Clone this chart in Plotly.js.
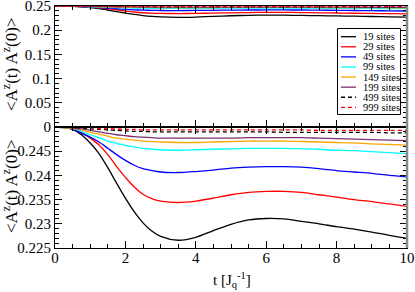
<!DOCTYPE html>
<html>
<head>
<meta charset="utf-8">
<script src="https://cdn.plot.ly/plotly-3.0.1.min.js"></script>
<style>html,body{margin:0;padding:0;background:#fff;}#chart{width:415px;height:292px;}</style>
</head>
<body>
<div id="chart"></div>
<script>
// time axis [J_q^-1]
const t = [0,0.25,0.5,0.75,1,1.25,1.5,1.75,2,2.25,2.5,2.75,3,3.5,4,4.5,5,5.5,6,6.5,7,7.5,8,8.5,9,9.5,10];

const s19 = [0.2500,0.2499,0.2495,0.2484,0.2467,0.2445,0.2416,0.2384,0.2353,0.2325,0.2302,0.2285,0.2274,0.2266,0.2272,0.2286,0.2299,0.2308,0.2311,0.2310,0.2305,0.2300,0.2294,0.2289,0.2283,0.2276,0.2270];
const s29 = [0.2500,0.2499,0.2497,0.2489,0.2477,0.2463,0.2443,0.2418,0.2396,0.2376,0.2361,0.2352,0.2347,0.2344,0.2347,0.2353,0.2360,0.2365,0.2367,0.2367,0.2365,0.2360,0.2355,0.2350,0.2346,0.2341,0.2336];
const s49 = [0.2500,0.2499,0.2496,0.2487,0.2479,0.2469,0.2456,0.2443,0.2431,0.2421,0.2414,0.2410,0.2407,0.2406,0.2408,0.2411,0.2415,0.2417,0.2418,0.2418,0.2417,0.2414,0.2410,0.2407,0.2404,0.2400,0.2397];
const s99 = [0.2500,0.2499,0.2497,0.2491,0.2484,0.2478,0.2471,0.2466,0.2462,0.2459,0.2456,0.2454,0.2453,0.2452,0.2453,0.2454,0.2455,0.2456,0.2456,0.2456,0.2455,0.2454,0.2452,0.2451,0.2449,0.2447,0.2445];
const s149 = [0.2500,0.2499,0.2497,0.2494,0.2489,0.2485,0.2481,0.2477,0.2475,0.2473,0.2471,0.2470,0.2469,0.2468,0.2468,0.2469,0.2470,0.2471,0.2471,0.2471,0.2470,0.2469,0.2468,0.2467,0.2465,0.2464,0.2462];
const s199 = [0.2500,0.2500,0.2498,0.2496,0.2493,0.2490,0.2487,0.2484,0.2482,0.2480,0.2479,0.2478,0.2477,0.2477,0.2477,0.2477,0.2477,0.2478,0.2478,0.2478,0.2478,0.2477,0.2476,0.2475,0.2474,0.2473,0.2472];
const s499 = [0.2500,0.2500,0.2499,0.2498,0.2496,0.2495,0.2494,0.2493,0.2492,0.2491,0.2491,0.2490,0.2490,0.2490,0.2490,0.2490,0.2490,0.2490,0.2490,0.2489,0.2489,0.2489,0.2489,0.2489,0.2489,0.2488,0.2488];
const s999 = [0.2500,0.2500,0.2500,0.2499,0.2498,0.2497,0.2496,0.2496,0.2495,0.2495,0.2494,0.2494,0.2494,0.2494,0.2494,0.2494,0.2494,0.2494,0.2494,0.2494,0.2494,0.2493,0.2493,0.2493,0.2493,0.2493,0.2493];

const seriesNames = ['19 sites','29 sites','49 sites','99 sites','149 sites','199 sites','499 sites','999 sites'];
const seriesValues = [s19,s29,s49,s99,s149,s199,s499,s999];

const lowerTickVals = [0.225,0.23,0.235,0.24,0.245];
const lowerTickText = ['0.225','0.23','0.235','0.24','0.245'];
const upperTickVals = [0,0.05,0.1,0.15,0.2,0.25];
const upperTickText = ['0','0.05','0.1','0.15','0.2','0.25'];

const colors = ['#000000','#ff0000','#0000ff','#00ffff','#ffa500','#7a2f70','#000000','#ff0000'];
const dashes = ['solid','solid','solid','solid','solid','solid','4px,3px','4px,3px'];

const FONT = 'Liberation Serif, Times New Roman, serif';
const traces = [];
seriesValues.forEach((v,i)=>{
  traces.push({x:t,y:v,xaxis:'x',yaxis:'y',mode:'lines',name:seriesNames[i],showlegend:false,
    line:{color:colors[i],width:1.3,dash:dashes[i],shape:'spline',smoothing:0.8}});
  traces.push({x:t,y:v,xaxis:'x2',yaxis:'y2',mode:'lines',name:seriesNames[i],showlegend:false,
    line:{color:colors[i],width:1.3,dash:dashes[i],shape:'spline',smoothing:0.8}});
});

const M = {l:55,r:8,t:6,b:44};
const W = 415, H = 292;
const pw = W-M.l-M.r, ph = H-M.t-M.b;
const px = p => (p-M.l)/pw;
const py = p => (H-M.b-p)/ph;

const xCommon = {range:[0,10],tick0:0,dtick:2,ticks:'inside',ticklen:7,tickwidth:1,tickcolor:'#000',
  minor:{tick0:0,dtick:0.5,ticks:'inside',ticklen:4,tickcolor:'#000'},
  showline:true,linecolor:'#000',linewidth:1,mirror:'ticks',showgrid:false,zeroline:false,
  ticklabeloverflow:'allow',ticklabelstandoff:-4,
  tickfont:{family:FONT,size:15,color:'#000'}};

const shapes = [];
const annotations = [];
// custom compact legend
shapes.push({type:'rect',xref:'paper',yref:'paper',x0:px(337.5),x1:px(400.5),y0:py(28.5),y1:py(114.5),
  line:{color:'#000',width:1},fillcolor:'#fff',layer:'above'});
seriesNames.forEach((n,i)=>{
  const yy = 36.7 + i*10.09;
  shapes.push({type:'line',xref:'paper',yref:'paper',x0:px(341),x1:px(356),y0:py(yy),y1:py(yy),
    line:{color:colors[i],width:1.3,dash:dashes[i]},layer:'above'});
  annotations.push({xref:'paper',yref:'paper',x:px(361),y:py(yy),xanchor:'left',yanchor:'middle',
    text:n,showarrow:false,font:{family:FONT,size:10.5,color:'#000'}});
});
// gray right frame edge
shapes.push({type:'line',xref:'paper',yref:'paper',x0:1,x1:1,y0:0,y1:1,line:{color:'#8a8a8a',width:2.5},layer:'above'});

const ytitle = '&lt;A<sup>z</sup>(t) A<sup>z</sup>(0)&gt;';
annotations.push({xref:'paper',yref:'paper',x:px(10),y:py(64),textangle:-90,xanchor:'center',yanchor:'middle',
  text:ytitle,showarrow:false,font:{family:FONT,size:17,color:'#000'}});
annotations.push({xref:'paper',yref:'paper',x:px(10),y:py(186),textangle:-90,xanchor:'center',yanchor:'middle',
  text:ytitle,showarrow:false,font:{family:FONT,size:17,color:'#000'}});
// x axis title
annotations.push({xref:'paper',yref:'paper',x:px(232),y:py(280),xanchor:'center',yanchor:'middle',
  text:'t [J<sub>q</sub><sup>-1</sup>]',showarrow:false,font:{family:FONT,size:15,color:'#000'}});

const layout = {
  width:W,height:H,margin:M,paper_bgcolor:'#fff',plot_bgcolor:'#fff',showlegend:false,
  font:{family:FONT,color:'#000'},
  xaxis:Object.assign({},xCommon,{domain:[0,1],anchor:'y'}),
  xaxis2:Object.assign({},xCommon,{domain:[0,1],anchor:'y2',matches:'x',showticklabels:false}),
  yaxis:{domain:[0,0.5],anchor:'x',range:[0.225,0.25],tickmode:'array',tickvals:lowerTickVals,ticktext:lowerTickText,
    ticks:'inside',ticklen:7,tickcolor:'#000',minor:{tickmode:'linear',tick0:0.225,dtick:0.001,ticks:'inside',ticklen:4,tickcolor:'#000'},
    showline:true,linecolor:'#000',linewidth:1,mirror:'ticks',showgrid:false,zeroline:false,ticklabeloverflow:'allow',
    tickfont:{family:FONT,size:15,color:'#000'}},
  yaxis2:{domain:[0.5,1],anchor:'x2',range:[0,0.25],tickmode:'array',tickvals:upperTickVals,ticktext:upperTickText,
    ticks:'inside',ticklen:7,tickcolor:'#000',minor:{tickmode:'linear',tick0:0,dtick:0.01,ticks:'inside',ticklen:4,tickcolor:'#000'},
    showline:true,linecolor:'#000',linewidth:1,mirror:'ticks',showgrid:false,zeroline:false,ticklabeloverflow:'allow',
    tickfont:{family:FONT,size:15,color:'#000'}},
  shapes:shapes,annotations:annotations
};

Plotly.newPlot('chart',traces,layout,{staticPlot:true,displayModeBar:false});
</script>
</body>
</html>
